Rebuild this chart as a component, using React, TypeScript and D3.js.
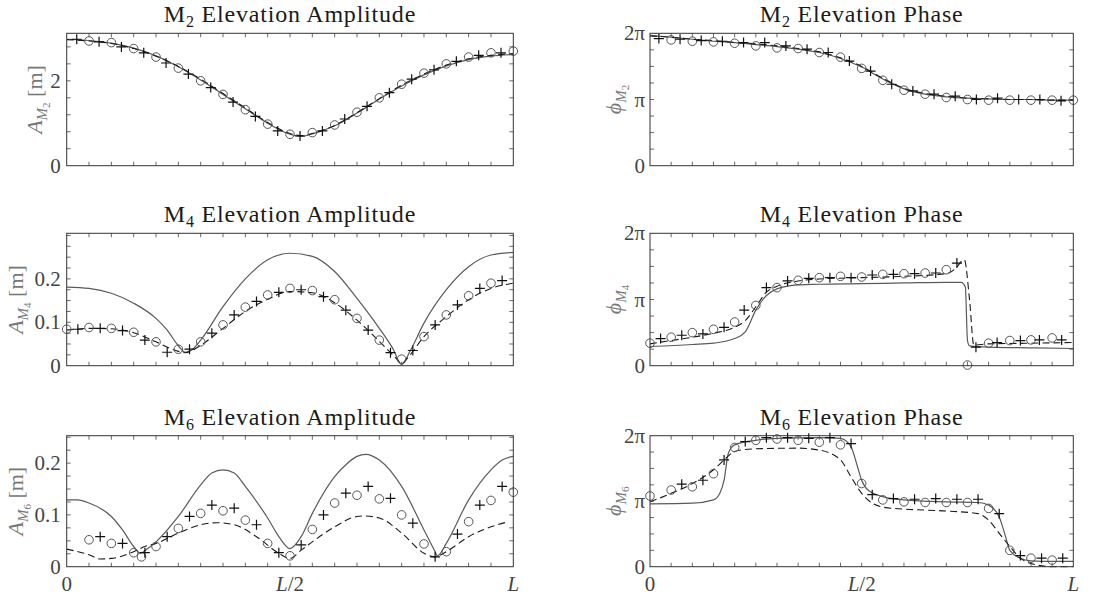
import React from 'react';
import * as d3 from 'd3';

type P = [number, number];

// x positions are in units of L/20 (0 .. 20)
const X_LABELS: [number, string][] = [[0, '0'], [10, 'L/2'], [20, 'L']];

// ---------- M2 amplitude [m]
const M2_AMP_SOLID: P[] = [[0,2.98],[1,2.95],[2,2.89],[3,2.77],[4,2.59],[5,2.33],[6,2.02],[7,1.68],[8,1.34],[9,1.0],[10,0.74],[10.5,0.69],[11,0.75],[12,0.94],[13,1.24],[14,1.57],[15,1.88],[16,2.14],[17,2.35],[18,2.5],[19,2.58],[20,2.62]];
const M2_AMP_DASHED: P[] = [[0,2.97],[1,2.94],[2,2.88],[3,2.76],[4,2.58],[5,2.34],[6,2.04],[7,1.7],[8,1.36],[9,1.02],[10,0.76],[10.5,0.71],[11,0.76],[12,0.95],[13,1.25],[14,1.58],[15,1.9],[16,2.16],[17,2.37],[18,2.52],[19,2.6],[20,2.64]];
const M2_AMP_CIRCLES: P[] = [[1,2.94],[2,2.90],[3,2.76],[4,2.56],[5,2.30],[6,2.0],[7,1.68],[8,1.32],[9,0.98],[10,0.74],[11,0.78],[12,0.96],[13,1.26],[14,1.6],[15,1.92],[16,2.18],[17,2.4],[18,2.56],[19,2.66],[20,2.70]];
const M2_AMP_PLUSES: P[] = [[0.45,2.98],[1.45,2.92],[2.45,2.80],[3.45,2.66],[4.45,2.42],[5.45,2.16],[6.45,1.84],[7.45,1.50],[8.45,1.16],[9.45,0.82],[10.45,0.70],[11.45,0.82],[12.45,1.10],[13.45,1.40],[14.45,1.72],[15.45,2.04],[16.45,2.26],[17.45,2.46],[18.45,2.60],[19.45,2.66]];

// ---------- M2 phase [units of pi]
const M2_PH_SOLID: P[] = [[0,1.97],[1,1.94],[2,1.91],[3,1.88],[4,1.86],[5,1.83],[6,1.80],[7,1.76],[8,1.71],[9,1.62],[10,1.49],[11,1.31],[12,1.16],[13,1.08],[14,1.04],[15,1.02],[16,1.01],[17,1.0],[18,1.0],[19,0.99],[20,0.99]];
const M2_PH_DASHED: P[] = [[0,1.96],[1,1.94],[2,1.91],[3,1.89],[4,1.86],[5,1.84],[6,1.81],[7,1.77],[8,1.72],[9,1.63],[10,1.5],[11,1.32],[12,1.17],[13,1.09],[14,1.05],[15,1.02],[16,1.01],[17,1.0],[18,1.0],[19,0.99],[20,0.99]];
const M2_PH_CIRCLES: P[] = [[1,1.90],[2,1.88],[3,1.87],[4,1.85],[5,1.81],[6,1.78],[7,1.77],[8,1.71],[9,1.64],[10,1.47],[11,1.29],[12,1.14],[13,1.08],[14,1.03],[15,1.0],[16,0.99],[17,0.99],[18,0.99],[19,0.99],[20,0.99]];
const M2_PH_PLUSES: P[] = [[0.42,1.92],[1.42,1.91],[2.42,1.89],[3.42,1.88],[4.42,1.86],[5.42,1.86],[6.42,1.81],[7.42,1.76],[8.42,1.71],[9.42,1.58],[10.42,1.43],[11.42,1.23],[12.42,1.13],[13.42,1.08],[14.42,1.05],[15.42,1.0],[16.42,1.02],[17.42,1.0],[18.42,1.0],[19.42,0.98]];

// ---------- M4 amplitude [m]
const M4_AMP_SOLID: P[] = [[0,0.181],[1,0.178],[2,0.167],[3,0.144],[4,0.109],[4.5,0.082],[5,0.046],[5.3,0.031],[5.6,0.036],[6,0.059],[7,0.136],[8,0.2],[9,0.244],[10,0.259],[11,0.252],[12,0.217],[13,0.155],[14,0.086],[14.6,0.04],[15,0.003],[15.4,0.036],[16,0.098],[17,0.175],[18,0.228],[19,0.255],[20,0.261]];
const M4_AMP_DASHED: P[] = [[0,0.082],[1,0.086],[2,0.085],[3,0.076],[4,0.055],[5,0.033],[5.3,0.03],[6,0.047],[7,0.086],[8,0.125],[9,0.153],[10,0.171],[11,0.168],[12,0.145],[13,0.105],[14,0.056],[14.7,0.02],[15,0.005],[15.3,0.02],[16,0.067],[17,0.113],[18,0.152],[19,0.178],[20,0.19]];
const M4_AMP_CIRCLES: P[] = [[0,0.084],[1,0.088],[2,0.086],[3,0.077],[4,0.055],[5,0.038],[6,0.055],[7,0.094],[8,0.135],[9,0.163],[10,0.178],[11,0.173],[12,0.152],[13,0.109],[14,0.059],[15,0.015],[16,0.067],[17,0.117],[18,0.161],[19,0.190]];
const M4_AMP_PLUSES: P[] = [[0.5,0.084],[1.5,0.086],[2.5,0.081],[3.5,0.059],[4.5,0.031],[5.5,0.038],[6.5,0.075],[7.5,0.117],[8.5,0.148],[9.5,0.169],[10.5,0.175],[11.5,0.159],[12.5,0.128],[13.5,0.082],[14.5,0.030],[15.5,0.035],[16.5,0.094],[17.5,0.140],[18.5,0.178],[19.5,0.196]];

// ---------- M4 phase [units of pi]
const M4_PH_SOLID: P[] = [[0,0.29],[2,0.32],[3,0.34],[4,0.41],[4.5,0.51],[5,0.84],[5.5,1.06],[6,1.16],[7,1.22],[8,1.23],[10,1.24],[12,1.25],[14,1.26],[14.7,1.26],[14.9,1.19],[15.0,0.38],[15.1,0.30],[16,0.28],[18,0.27],[20,0.26]];
const M4_PH_DASHED: P[] = [[0,0.33],[1,0.38],[2,0.43],[3,0.49],[4,0.58],[4.5,0.68],[5,0.89],[5.5,1.11],[6,1.2],[7,1.28],[8,1.31],[10,1.33],[12,1.35],[14,1.39],[14.5,1.49],[14.7,1.57],[14.85,1.6],[15.1,0.99],[15.3,0.31],[16,0.33],[18,0.34],[20,0.35]];
const M4_PH_CIRCLES: P[] = [[0,0.34],[1,0.43],[2,0.50],[3,0.55],[4,0.66],[5,0.91],[6,1.18],[7,1.29],[8,1.33],[9,1.35],[10,1.34],[11,1.38],[12,1.39],[13,1.40],[14,1.45],[15,0.01],[16,0.34],[17,0.38],[18,0.39],[19,0.42]];
const M4_PH_PLUSES: P[] = [[0.5,0.41],[1.5,0.46],[2.5,0.48],[3.5,0.58],[4.45,0.84],[5.5,1.18],[6.5,1.28],[7.5,1.32],[8.5,1.33],[9.5,1.33],[10.5,1.37],[11.5,1.38],[12.5,1.39],[13.5,1.40],[14.5,1.55],[15.4,0.28],[16.4,0.35],[17.5,0.38],[18.4,0.39],[19.45,0.39]];

// ---------- M6 amplitude [m]
const M6_AMP_SOLID: P[] = [[0,0.129],[0.5,0.129],[1,0.123],[2,0.097],[2.5,0.071],[3,0.039],[3.3,0.026],[3.6,0.034],[4,0.048],[5,0.097],[6,0.158],[6.5,0.181],[7,0.187],[7.5,0.181],[8,0.155],[9,0.094],[9.5,0.058],[10,0.035],[10.5,0.058],[11,0.103],[12,0.174],[12.5,0.197],[13,0.213],[13.4,0.217],[14,0.206],[15,0.155],[16,0.071],[16.5,0.029],[16.6,0.021],[17,0.045],[18,0.129],[19,0.187],[19.5,0.206],[20,0.213]];
const M6_AMP_DASHED: P[] = [[0,0.034],[1,0.023],[1.5,0.015],[2,0.016],[3,0.029],[3.5,0.039],[4,0.045],[5,0.065],[6,0.081],[6.7,0.085],[7.5,0.081],[8.5,0.058],[9.5,0.026],[10,0.016],[10.5,0.032],[11,0.048],[12,0.077],[13,0.097],[13.3,0.098],[14,0.094],[15,0.065],[16,0.026],[16.5,0.019],[17,0.029],[18,0.058],[19,0.077],[19.8,0.087]];
const M6_AMP_CIRCLES: P[] = [[1,0.052],[2,0.045],[3,0.027],[3.35,0.019],[4,0.039],[5,0.074],[6,0.103],[7,0.108],[8,0.090],[9,0.045],[10,0.021],[11,0.072],[12,0.123],[13,0.138],[14,0.131],[15,0.100],[16,0.044],[17,0.029],[18,0.087],[19,0.128],[20,0.144]];
const M6_AMP_PLUSES: P[] = [[1.5,0.058],[2.5,0.045],[3.5,0.027],[4.5,0.058],[5.5,0.097],[6.5,0.119],[7.5,0.113],[8.5,0.081],[9.5,0.027],[10.5,0.042],[11.5,0.100],[12.5,0.142],[13.5,0.155],[14.5,0.132],[15.5,0.084],[16.5,0.019],[17.5,0.063],[18.5,0.119],[19.5,0.155]];

// ---------- M6 phase [units of pi]
const M6_PH_SOLID: P[] = [[0,0.96],[2,0.97],[3,1.02],[3.3,1.12],[3.5,1.32],[3.7,1.73],[4,1.86],[5,1.93],[6,1.96],[8,1.97],[9,1.96],[9.5,1.83],[9.8,1.53],[10,1.32],[10.3,1.17],[11,1.07],[12,1.02],[14,0.99],[15.5,0.98],[16,0.94],[16.5,0.76],[16.8,0.46],[17,0.25],[17.5,0.13],[18,0.09],[19,0.08],[20,0.08]];
const M6_PH_DASHED: P[] = [[0,0.99],[1,1.12],[2,1.27],[3,1.48],[3.5,1.63],[4,1.76],[4.5,1.79],[5,1.80],[7,1.81],[8,1.78],[9,1.63],[9.5,1.37],[10,1.12],[10.5,0.97],[11,0.91],[12,0.88],[14,0.85],[15.5,0.81],[16,0.71],[16.5,0.51],[17,0.31],[17.5,0.13],[18,0.05],[19,0.0],[20,0.0]];
const M6_PH_CIRCLES: P[] = [[0,1.08],[1,1.17],[2,1.22],[3,1.42],[4,1.82],[5,1.93],[6,1.95],[7,1.93],[8,1.90],[9,1.86],[10,1.27],[11,1.02],[12,0.99],[13,0.98],[14,0.98],[15,0.98],[16,0.89],[17,0.25],[18,0.13],[19,0.10]];
const M6_PH_PLUSES: P[] = [[1.5,1.26],[2.5,1.32],[3.5,1.63],[4.5,1.91],[5.5,1.97],[6.5,1.97],[7.5,1.96],[8.5,1.97],[9.5,1.88],[10.5,1.10],[11.5,1.04],[12.5,1.03],[13.5,1.04],[14.5,1.03],[15.5,1.03],[16.5,0.81],[17.5,0.17],[18.5,0.13],[19.5,0.13]];

// tick values
const M2_AMP_TICKS = [0, 0.4, 0.8, 1.2, 1.6, 2.0, 2.4, 2.8];
const M2_AMP_LABELS: [number, string][] = [[0, '0'], [2, '2']];
const SMALL_AMP_TICKS = [0, 0.025, 0.05, 0.075, 0.1, 0.125, 0.15, 0.175, 0.2, 0.225, 0.25, 0.275, 0.3];
const SMALL_AMP_LABELS: [number, string][] = [[0, '0'], [0.1, '0.1'], [0.2, '0.2']];
const PHASE_TICKS = [0, 0.25, 0.5, 0.75, 1, 1.25, 1.5, 1.75, 2];
const PHASE_LABELS: [number, string][] = [[0, '0'], [1, 'π'], [2, '2π']];

type Cfg = {
  id: string;
  harmonic: string;
  kind: 'Amplitude' | 'Phase';
  yMax: number;
  ticks: number[];
  labels: [number, string][];
  solid: P[];
  dashed: P[];
  circles: P[];
  pluses: P[];
  ylx: number;
};

const PANELS: Cfg[] = [
  { id: 'a2', harmonic: '2', kind: 'Amplitude', yMax: 3.12, ticks: M2_AMP_TICKS, labels: M2_AMP_LABELS, solid: M2_AMP_SOLID, dashed: M2_AMP_DASHED, circles: M2_AMP_CIRCLES, pluses: M2_AMP_PLUSES, ylx: 42 },
  { id: 'p2', harmonic: '2', kind: 'Phase', yMax: 2, ticks: PHASE_TICKS, labels: PHASE_LABELS, solid: M2_PH_SOLID, dashed: M2_PH_DASHED, circles: M2_PH_CIRCLES, pluses: M2_PH_PLUSES, ylx: 621 },
  { id: 'a4', harmonic: '4', kind: 'Amplitude', yMax: 0.305, ticks: SMALL_AMP_TICKS, labels: SMALL_AMP_LABELS, solid: M4_AMP_SOLID, dashed: M4_AMP_DASHED, circles: M4_AMP_CIRCLES, pluses: M4_AMP_PLUSES, ylx: 23 },
  { id: 'p4', harmonic: '4', kind: 'Phase', yMax: 2, ticks: PHASE_TICKS, labels: PHASE_LABELS, solid: M4_PH_SOLID, dashed: M4_PH_DASHED, circles: M4_PH_CIRCLES, pluses: M4_PH_PLUSES, ylx: 621 },
  { id: 'a6', harmonic: '6', kind: 'Amplitude', yMax: 0.253, ticks: SMALL_AMP_TICKS, labels: SMALL_AMP_LABELS, solid: M6_AMP_SOLID, dashed: M6_AMP_DASHED, circles: M6_AMP_CIRCLES, pluses: M6_AMP_PLUSES, ylx: 23 },
  { id: 'p6', harmonic: '6', kind: 'Phase', yMax: 2, ticks: PHASE_TICKS, labels: PHASE_LABELS, solid: M6_PH_SOLID, dashed: M6_PH_DASHED, circles: M6_PH_CIRCLES, pluses: M6_PH_PLUSES, ylx: 621 },
];

const COLS = [[66.7, 513.3], [650, 1073.3]];
const ROWS = [[33.3, 165.7], [233.3, 365.7], [435.7, 566.7]];
const FONT = '"Liberation Serif", "DejaVu Serif", serif';

function Panel({ cfg, col, row }: { cfg: Cfg; col: number; row: number }) {
  const [x0, x1] = COLS[col];
  const [y0, y1] = ROWS[row];
  const x = d3.scaleLinear().domain([0, 20]).range([x0, x1]);
  const y = d3.scaleLinear().domain([0, cfg.yMax]).range([y1, y0]);
  const line = d3.line<P>().x(d => x(d[0])).y(d => y(d[1])).curve(d3.curveMonotoneX);
  const clipId = 'clip-' + cfg.id;
  const cx = (x0 + x1) / 2;
  const tl = 4;
  const isAmp = cfg.kind === 'Amplitude';
  const labelX = isAmp ? x0 - 6 : x0 - 5;
  const yly = (y0 + y1) / 2;
  return (
    <g>
      <defs>
        <clipPath id={clipId}>
          <rect x={x0} y={y0 - 1} width={x1 - x0} height={y1 - y0 + 2} />
        </clipPath>
      </defs>
      {/* title */}
      <text x={cx} y={y0 - 11} textAnchor="middle" fontFamily={FONT} fontSize={24} letterSpacing={0.8} fill="#1a1a1a">
        M<tspan dy={5} fontSize={16}>{cfg.harmonic}</tspan><tspan dy={-5}>{' Elevation ' + cfg.kind}</tspan>
      </text>
      {/* frame ticks */}
      {d3.range(1, 20).map(i => (
        <g key={'xt' + i} stroke="#444" strokeWidth={0.8}>
          <line x1={x(i)} x2={x(i)} y1={y1} y2={y1 - tl} />
          <line x1={x(i)} x2={x(i)} y1={y0} y2={y0 + tl} />
        </g>
      ))}
      {cfg.ticks.filter(t => t > 0 && t < cfg.yMax).map(t => (
        <g key={'yt' + t} stroke="#444" strokeWidth={0.8}>
          <line x1={x0} x2={x0 + tl} y1={y(t)} y2={y(t)} />
          <line x1={x1} x2={x1 - tl} y1={y(t)} y2={y(t)} />
        </g>
      ))}
      {/* y tick labels */}
      {cfg.labels.map(([v, s]) => (
        <text key={'yl' + s} x={labelX} y={y(v) + 7} textAnchor="end" fontFamily={FONT} fontSize={21} fill="#444">{s}</text>
      ))}
      {/* x tick labels (bottom row) */}
      {row === 2 && X_LABELS.map(([v, s]) => (
        <text key={'xl' + s} x={x(v)} y={y1 + 24} textAnchor="middle" fontFamily={FONT} fontSize={21} fill="#444">
          {s === '0' ? '0' : s === 'L' ? <tspan fontStyle="italic">L</tspan> : <><tspan fontStyle="italic">L</tspan>/2</>}
        </text>
      ))}
      {/* y axis label */}
      <text transform={`translate(${cfg.ylx},${yly}) rotate(-90)`} textAnchor="middle" fontFamily={FONT} fontSize={22} fill="#777">
        <tspan fontStyle="italic">{isAmp ? 'A' : 'ϕ'}</tspan>
        <tspan dy={5} fontSize={15} fontStyle="italic">M</tspan>
        <tspan dy={3} fontSize={11}>{cfg.harmonic}</tspan>
        {isAmp ? <tspan dy={-8}>{' [m]'}</tspan> : null}
      </text>
      {/* lines */}
      <g clipPath={`url(#${clipId})`} fill="none">
        <path d={line(cfg.solid) || ''} stroke="#5a5a5a" strokeWidth={1.2} />
        <path d={line(cfg.dashed) || ''} stroke="#1a1a1a" strokeWidth={1.1} strokeDasharray="7,4" />
      </g>
      {/* markers */}
      {cfg.circles.map((d, i) => (
        <circle key={'c' + i} cx={x(d[0])} cy={y(d[1])} r={4.3} fill="none" stroke="#555" strokeWidth={1} />
      ))}
      {cfg.pluses.map((d, i) => (
        <path key={'p' + i} d={`M${x(d[0]) - 5},${y(d[1])}h10M${x(d[0])},${y(d[1]) - 5}v10`} stroke="#111" strokeWidth={1.2} fill="none" />
      ))}
      {/* frame */}
      <rect x={x0} y={y0} width={x1 - x0} height={y1 - y0} fill="none" stroke="#333" strokeWidth={1} />
    </g>
  );
}

export default function App() {
  return (
    <svg width={1113} height={596} style={{ position: 'absolute', left: 0, top: 0, background: '#fff' }}>
      <rect width={1113} height={596} fill="#fff" />
      {PANELS.map((p, i) => (
        <Panel key={p.id} cfg={p} col={i % 2} row={Math.floor(i / 2)} />
      ))}
    </svg>
  );
}
